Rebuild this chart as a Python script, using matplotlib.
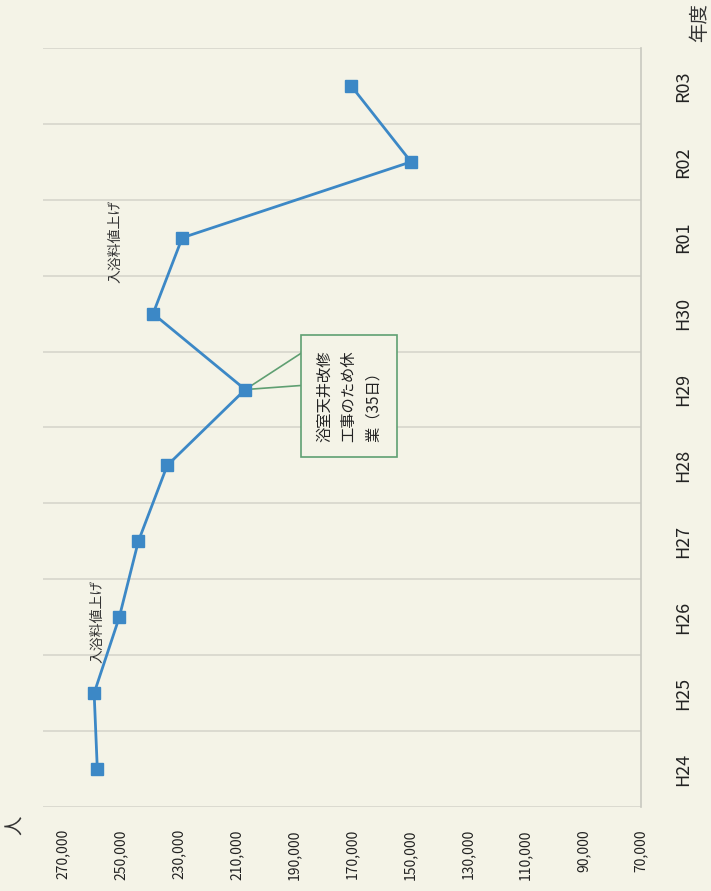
import numpy as np
import matplotlib
matplotlib.use('Agg')
import matplotlib.pyplot as plt
from matplotlib.patches import Polygon

plt.rcParams['font.family'] = ['Noto Sans CJK JP', 'DejaVu Sans']

# Annual bathers (人), fiscal years H24..R03
years = ['H24', 'H25', 'H26', 'H27', 'H28', 'H29', 'H30', 'R01', 'R02', 'R03']
visitors = [258200, 259300, 250600, 244000, 234000, 207000, 238900, 228800, 149600, 170300]
value_ticks = [270000, 250000, 230000, 210000, 190000, 170000, 150000, 130000, 110000, 90000, 70000]

price_note = '入浴料値上げ'
price_years = ['H26', 'R01']
closure_note = '浴室天井改修\n工事のため休\n業（35日）'
closure_year = 'H29'

bg = '#f4f3e7'
line_c = '#3c88c6'
grid_c = '#d6d6cc'
box_c = '#5f9f72'

fig = plt.figure(figsize=(7.11, 8.91), dpi=100, facecolor=bg)
ax = fig.add_axes([43/711, 84/891, 598/711, 759/891], facecolor=bg)

pos = np.arange(len(years))
ax.plot(visitors, pos, color=line_c, lw=2, marker='s', ms=8,
        mfc=line_c, mec=line_c, zorder=3)

ax.set_xlim(277000, 70000)
ax.set_ylim(-0.5, len(years) - 0.5)

ax.set_xticks(value_ticks)
ax.set_xticklabels([f'{v:,}' for v in value_ticks], rotation=90, fontsize=10, color='#222222')
ax.set_yticks(pos)
ax.set_yticklabels(years, rotation=90, va='center', fontsize=13, color='#222222')
ax.tick_params(axis='x', length=0, pad=16)
ax.tick_params(axis='y', length=0, pad=24, labelleft=False, labelright=True)

ax.set_yticks(np.arange(-0.5, len(years), 1), minor=True)
ax.tick_params(which='minor', length=0)
ax.grid(which='minor', axis='y', color=grid_c, lw=1.2)
ax.grid(which='major', visible=False)

for s in ['left', 'top', 'bottom']:
    ax.spines[s].set_visible(False)
ax.spines['right'].set_color('#c8c8c0')
ax.spines['right'].set_linewidth(1.2)

# price increase notes
for yr in price_years:
    i = years.index(yr)
    ax.text(visitors[i] + 7600 if i < 5 else visitors[i] + 23000, i - 0.05, price_note,
            rotation=90, ha='center', va='center', fontsize=10, color='#333333')

# closure callout: box, then a wedge from its left edge to the H29 point
ci = years.index(closure_year)
box = ax.text(171000, ci - 0.09, closure_note,
              rotation=90, ha='center', va='center', fontsize=11, color='#222222',
              linespacing=1.55, multialignment='left', zorder=4,
              bbox=dict(boxstyle='square,pad=1.0', fc=bg, ec=box_c, lw=1.2))
fig.canvas.draw()
ext = box.get_bbox_patch().get_window_extent()
tip = ax.transData.transform((visitors[ci], ci))
pts = [(ext.x0 + 1, ext.y0 + 0.86 * ext.height), tuple(tip),
       (ext.x0 + 1, ext.y0 + 0.59 * ext.height)]
pts = ax.transData.inverted().transform(pts)
ax.add_patch(Polygon(pts, closed=True, fc=bg, ec=box_c, lw=1.2, zorder=2))

fig.text(15/711, 1 - 825/891, '人', rotation=90, ha='center', va='center',
         fontsize=14, color='#333333')
fig.text(700/711, 1 - 22/891, '年度', rotation=90, ha='center', va='center',
         fontsize=14, color='#333333')

fig.savefig('out.png', dpi=100, facecolor=bg)
